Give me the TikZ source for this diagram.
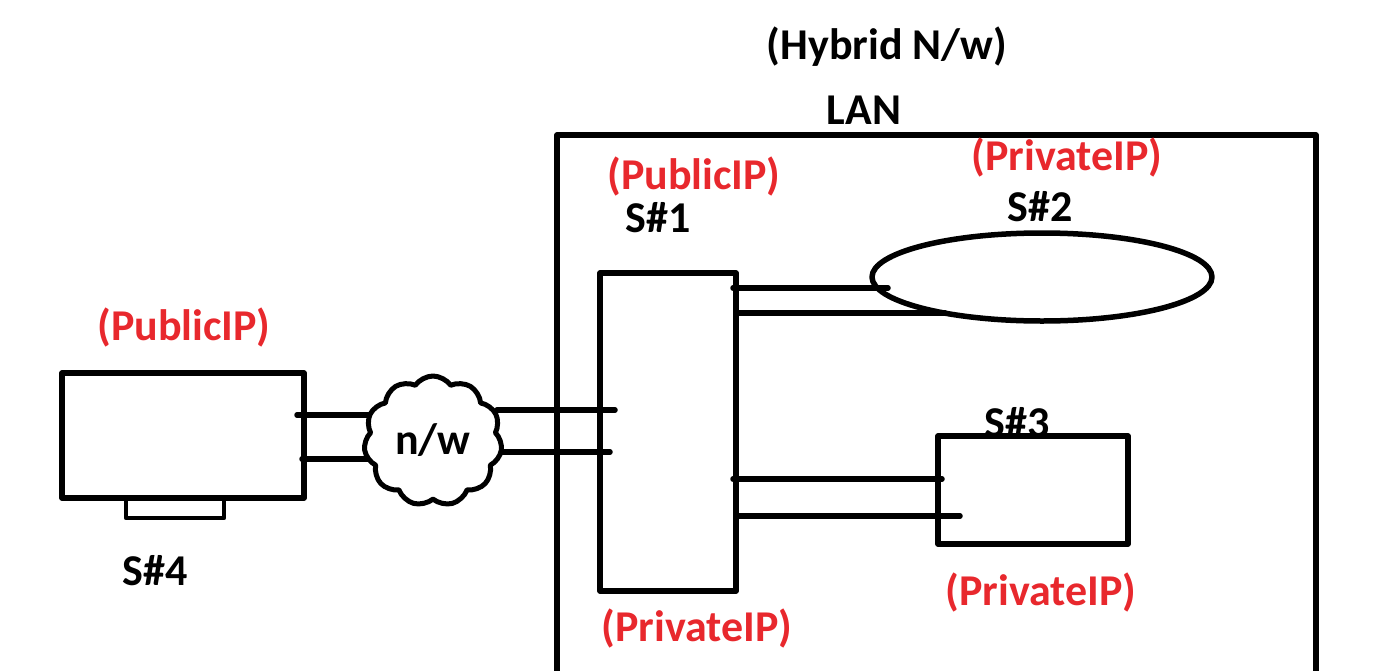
\documentclass[tikz,border=0pt]{standalone}
\usepackage{fontspec}
\setmainfont{Carlito}
\usetikzlibrary{shapes.symbols,shapes.geometric}
\definecolor{ipred}{RGB}{232,40,45}
\begin{document}
\begin{tikzpicture}[x=1pt,y=-1pt,line join=round,
		font=\fontsize{44}{46}\selectfont\bfseries,
		sbox/.style={draw,line width=5.5pt,minimum width=#1,inner sep=0pt,outer sep=0pt},
		link/.style={line width=5.5pt,line cap=round},
		iplabel/.style={text=ipred,inner sep=0pt}]
		\useasboundingbox (0,0) rectangle (1385,670);
		% LAN
		\draw[line width=5.5pt] (557,690) |- (1316,135) -- (1316,690);
		\node[inner sep=0pt] (title) at (887,47) {(Hybrid N/w)};
		\node[inner sep=0pt] (lan) at (864,110) {LAN};
		% servers
		\node[sbox=136pt,minimum height=318pt] (s1) at (668,432) {};
		\node[draw,ellipse,line width=5.5pt,minimum width=340pt,minimum height=88pt,inner sep=0pt,outer sep=0pt] (s2) at (1042,277) {};
		\node[sbox=190pt,minimum height=108pt] (s3) at (1033,490) {};
		\node[sbox=242pt,minimum height=125pt] (s4) at (183,435.5) {};
		\node[draw,line width=4.5pt,minimum width=98pt,minimum height=20pt,inner sep=0pt,outer sep=0pt,anchor=north] (stand) at ([xshift=-8]s4.south) {};
		% labels
		\node[iplabel] (ip1) at (694,176) {(PublicIP)};
		\node[inner sep=0pt] (l1) at (658,218) {S\#1};
		\node[iplabel] (ip1b) at (697,628) {(PrivateIP)};
		\node[iplabel] (ip2) at (1067,157) {(PrivateIP)};
		\node[inner sep=0pt] (l2) at (1040,207) {S\#2};
		\node[inner sep=0pt] (l3) at (1017,423) {S\#3};
		\node[iplabel] (ip3) at (1041,592) {(PrivateIP)};
		\node[iplabel] (ip4) at (184,327) {(PublicIP)};
		\node[inner sep=0pt] (l4) at (155,571) {S\#4};
		% links
		\draw[link] ([shift={(-3,15)}]s1.north east) -- ([shift={(16,11)}]s2.west);
		\draw[link] ([shift={(2,40)}]s1.north east) -- ([shift={(73,36)}]s2.west);
		\draw[link] ([shift={(-3,206)}]s1.north east) -- ([shift={(4,-11)}]s3.west);
		\draw[link] ([shift={(2,243)}]s1.north east) -- ([shift={(22,26)}]s3.west);
		\coordinate (c) at (433,441);
		\draw[link] ([shift={(64,-31)}]c) -- ([shift={(15,-22)}]s1.west);
		\draw[link] ([shift={(64,11)}]c) -- ([shift={(10,20)}]s1.west);
		\draw[link] ([shift={(-7,-20.5)}]s4.east) -- ([shift={(-63,-26)}]c);
		\draw[link] ([shift={(-2,23.5)}]s4.east) -- ([shift={(-55,18)}]c);
		% cloud
		\node[cloud,draw,fill=white,line width=5pt,cloud puffs=11,cloud puff arc=110,aspect=1.05,
			minimum width=138pt,minimum height=130pt,inner sep=0pt] (net) at (c) {};
		\node[inner sep=0pt] (netl) at (433,440) {n/w};
\end{tikzpicture}
\end{document}
